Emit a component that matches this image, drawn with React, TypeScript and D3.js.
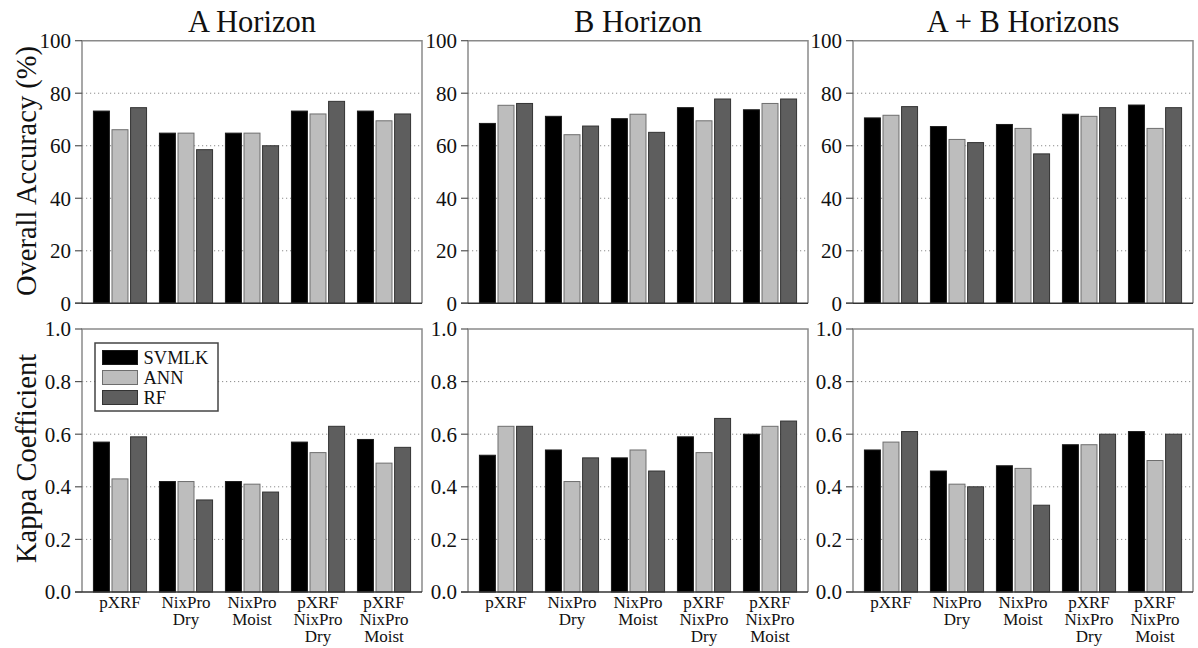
import React from 'react';
import * as d3 from 'd3';

const CATEGORIES = ['pXRF', 'NixPro Dry', 'NixPro Moist', 'pXRF NixPro Dry', 'pXRF NixPro Moist'];
const CATEGORY_LINES = [['pXRF'], ['NixPro', 'Dry'], ['NixPro', 'Moist'], ['pXRF', 'NixPro', 'Dry'], ['pXRF', 'NixPro', 'Moist']];
const SERIES = ['SVMLK', 'ANN', 'RF'];
const PANEL_TITLES = ['A Horizon', 'B Horizon', 'A + B Horizons'];

// overall accuracy (%) per panel, rows = categories, cols = SVMLK / ANN / RF
const OA_A = [[73.2, 66.1, 74.5], [64.8, 64.8, 58.5], [64.8, 64.8, 60.0], [73.2, 72.1, 76.9], [73.2, 69.5, 72.1]];
const OA_B = [[68.5, 75.4, 76.1], [71.2, 64.2, 67.5], [70.3, 72.0, 65.1], [74.5, 69.5, 77.8], [73.7, 76.1, 77.8]];
const OA_AB = [[70.6, 71.6, 74.9], [67.3, 62.4, 61.2], [68.1, 66.6, 56.9], [72.0, 71.2, 74.5], [75.5, 66.6, 74.5]];

// kappa coefficient
const K_A = [[0.57, 0.43, 0.59], [0.42, 0.42, 0.35], [0.42, 0.41, 0.38], [0.57, 0.53, 0.63], [0.58, 0.49, 0.55]];
const K_B = [[0.52, 0.63, 0.63], [0.54, 0.42, 0.51], [0.51, 0.54, 0.46], [0.59, 0.53, 0.66], [0.60, 0.63, 0.65]];
const K_AB = [[0.54, 0.57, 0.61], [0.46, 0.41, 0.40], [0.48, 0.47, 0.33], [0.56, 0.56, 0.60], [0.61, 0.50, 0.60]];

const OA_TICKS = [0, 20, 40, 60, 80, 100];
const K_TICKS = [0, 0.2, 0.4, 0.6, 0.8, 1.0];

const FILL: Record<string, string> = { SVMLK: '#000000', ANN: '#bdbdbd', RF: '#5e5e5e' };
const STROKE: Record<string, string> = { SVMLK: '#1a1a1a', ANN: '#6e6e6e', RF: '#333333' };

const FONT = '"Liberation Serif", "Times New Roman", serif';
const PANEL_LEFTS = [82, 468, 853];
const PANEL_W = 340;

interface PanelProps {
  left: number;
  top: number;
  bottom: number;
  data: number[][];
  max: number;
  ticks: number[];
  fmt: (v: number) => string;
}

const Panel: React.FC<PanelProps> = ({ left, top, bottom, data, max, ticks, fmt }) => {
  const right = left + PANEL_W;
  const y = d3.scaleLinear().domain([0, max]).range([bottom, top]);
  const x0 = d3.scaleBand<string>().domain(CATEGORIES).range([left, right]).paddingInner(0.195).paddingOuter(0.173);
  const x1 = d3.scaleBand<string>().domain(SERIES).range([0, x0.bandwidth()]).paddingInner(0.14);

  return (
    <g>
      {/* dotted grid */}
      {ticks.slice(1, -1).map((t) => (
        <line key={t} x1={left} x2={right} y1={y(t)} y2={y(t)} stroke="#8c8c8c" strokeWidth={1} strokeDasharray="1.2,2.8" />
      ))}
      {/* bars */}
      {CATEGORIES.map((c, i) => (
        <g key={c} transform={`translate(${x0(c)},0)`}>
          {SERIES.map((s, j) => (
            <rect
              key={s}
              x={x1(s)}
              y={y(data[i][j])}
              width={x1.bandwidth()}
              height={bottom - y(data[i][j])}
              fill={FILL[s]}
              stroke={STROKE[s]}
              strokeWidth={1}
            />
          ))}
        </g>
      ))}
      {/* frame */}
      <path d={`M${left},${bottom} V${top} H${right} V${bottom}`} fill="none" stroke="#8a8a8a" strokeWidth={1.5} />
      <line x1={left - 7} x2={right} y1={bottom} y2={bottom} stroke="#333" strokeWidth={1.5} />
      {/* y ticks */}
      {ticks.map((t) => (
        <g key={t}>
          <line x1={left - 7} x2={left} y1={y(t)} y2={y(t)} stroke="#555" strokeWidth={1.2} />
          <text x={left - 11} y={y(t)} dy="0.35em" textAnchor="end" fontSize={21} fontFamily={FONT} fill="#111">
            {fmt(t)}
          </text>
        </g>
      ))}
    </g>
  );
};

const CategoryLabels: React.FC<{ left: number; base: number }> = ({ left, base }) => {
  const x0 = d3.scaleBand<string>().domain(CATEGORIES).range([left, left + PANEL_W]).paddingInner(0.195).paddingOuter(0.173);
  return (
    <g>
      {CATEGORIES.map((c, i) => (
        <text key={c} textAnchor="middle" fontSize={17} fontFamily={FONT} fill="#111">
          {CATEGORY_LINES[i].map((l, k) => (
            <tspan key={k} x={(x0(c) ?? 0) + x0.bandwidth() / 2} y={base + k * 17}>
              {l}
            </tspan>
          ))}
        </text>
      ))}
    </g>
  );
};

export default function App() {
  const oaSets = [OA_A, OA_B, OA_AB];
  const kSets = [K_A, K_B, K_AB];
  const topRow = { top: 40.7, bottom: 303.3 };
  const botRow = { top: 329, bottom: 592 };

  return (
    <svg width={1198} height={648} style={{ position: 'absolute', left: 0, top: 0, background: '#fff' }}>
      <rect width={1198} height={648} fill="#fff" />
      {PANEL_LEFTS.map((left, p) => (
        <g key={p}>
          <text x={left + PANEL_W / 2} y={32} textAnchor="middle" fontSize={30.5} fontFamily={FONT} fill="#111">
            {PANEL_TITLES[p]}
          </text>
          <Panel left={left} top={topRow.top} bottom={topRow.bottom} data={oaSets[p]} max={100} ticks={OA_TICKS} fmt={d3.format('d')} />
          <Panel left={left} top={botRow.top} bottom={botRow.bottom} data={kSets[p]} max={1} ticks={K_TICKS} fmt={d3.format('.1f')} />
          <CategoryLabels left={left} base={608} />
        </g>
      ))}

      {/* y-axis titles */}
      <text transform={`translate(26,${(topRow.top + topRow.bottom) / 2 - 1}) rotate(-90)`} textAnchor="middle" dominantBaseline="central" fontSize={28.5} fontFamily={FONT} fill="#111">
        Overall Accuracy (%)
      </text>
      <text transform={`translate(26,${(botRow.top + botRow.bottom) / 2 - 2}) rotate(-90)`} textAnchor="middle" dominantBaseline="central" fontSize={28.5} fontFamily={FONT} fill="#111">
        Kappa Coefficient
      </text>

      {/* legend */}
      <g>
        <rect x={95} y={343} width={123} height={68} fill="#fff" stroke="#444" strokeWidth={1.5} />
        {SERIES.map((s, i) => (
          <g key={s} transform={`translate(102.5,${350.5 + i * 20})`}>
            <rect width={35} height={14} fill={FILL[s]} stroke={STROKE[s]} strokeWidth={1} />
            <text x={41} y={7} dy="0.35em" fontSize={18.5} fontFamily={FONT} fill="#111">
              {s}
            </text>
          </g>
        ))}
      </g>
    </svg>
  );
}
